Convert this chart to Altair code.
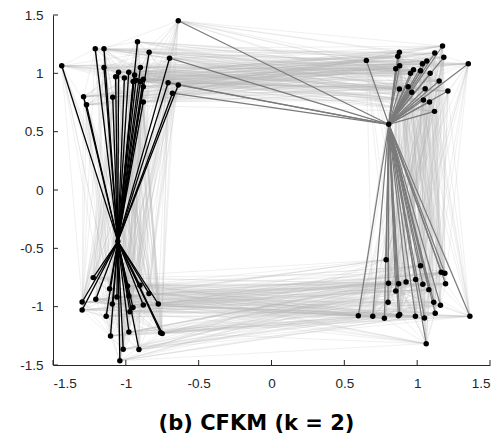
import altair as alt
import pandas as pd

# ---- data ----
# top-left cluster
tl_x = [-0.64, -1.44, -1.21, -1.15, -0.92, -0.84, -0.70, -1.15, -1.05, -1.07, -1.01, -0.98, -0.94,
        -0.90, -0.93, -0.88, -0.90, -0.88, -1.09, -1.29, -1.27, -0.88, -0.71, -0.64, -0.68, -0.95]
tl_y = [1.45, 1.065, 1.21, 1.21, 1.27, 1.18, 1.13, 1.05, 1.01, 0.97, 0.96, 1.01, 0.985,
        1.05, 0.94, 0.95, 0.93, 0.885, 0.795, 0.80, 0.73, 0.755, 0.92, 0.90, 0.83, 0.93]
# which centre(s) each top-left point is linked to: L = left, R = right, B = both
tl_link = ["R", "L", "L", "L", "L", "L", "B", "L", "L", "L", "L", "L", "L",
           "L", "L", "L", "L", "L", "L", "L", "L", "L", "B", "B", "B", "L"]

# top-right cluster
tr_x = [1.174, 1.351, 0.651, 0.878, 0.867, 1.121, 1.183, 1.066, 1.036, 0.880, 0.853, 0.975,
        0.954, 1.023, 1.089, 1.151, 0.878, 0.938, 0.963, 1.055, 1.211, 1.043, 1.085, 1.119]
tr_y = [1.234, 1.082, 1.111, 1.18, 1.146, 1.174, 1.137, 1.105, 1.082, 1.065, 1.04, 1.031,
        1.0, 1.022, 1.0, 0.934, 0.865, 0.885, 0.837, 0.868, 0.848, 0.771, 0.754, 0.674]

# bottom-left cluster
bl_x = [-1.224, -1.30, -1.30, -1.206, -1.111, -1.093, -1.061, -1.135, -1.105, -1.041, -1.018, -0.979,
        -0.972, -0.951, -0.979, -0.988, -0.903, -0.880, -0.841, -0.777, -0.910, -0.761, -0.750]
bl_y = [-0.751, -0.96, -1.028, -0.937, -0.846, -0.977, -0.917, -1.083, -1.251, -1.463, -1.365, -1.217,
        -1.043, -1.008, -0.908, -0.823, -0.817, -0.985, -0.888, -0.977, -1.368, -1.223, -1.231]

# bottom-right cluster
br_x = [0.787, 1.023, 1.165, 1.190, 1.195, 0.803, 0.873, 0.924, 0.990, 1.039, 0.853, 1.080,
        0.800, 1.114, 1.160, 1.124, 0.596, 0.695, 0.775, 0.871, 0.880, 0.988, 1.050, 1.362, 1.062]
br_y = [-0.597, -0.649, -0.705, -0.714, -0.803, -0.80, -0.803, -0.788, -0.768, -0.808, -0.865, -0.854,
        -0.962, -0.962, -0.988, -1.057, -1.077, -1.083, -1.10, -1.077, -1.068, -1.083, -1.097, -1.083, -1.317]

# cluster centres
centre_x = [-1.055, 0.805]
centre_y = [-0.44, 0.563]

tick_values = [-1.5, -1, -0.5, 0, 0.5, 1, 1.5]

# ---- build tables ----
clusters = {
    "TL": list(zip(tl_x, tl_y)),
    "TR": list(zip(tr_x, tr_y)),
    "BL": list(zip(bl_x, bl_y)),
    "BR": list(zip(br_x, br_y)),
}
pairs = [("TL", "TR"), ("BL", "BR"), ("TL", "BL"), ("TR", "BR")]

# light graph edges: a regular subset of the pairs between neighbouring clusters
edges = []
for a, b in pairs:
    for i, (x1, y1) in enumerate(clusters[a]):
        for j, (x2, y2) in enumerate(clusters[b]):
            if (i + 2 * j) % 3 == 0:
                edges.append({"x": x1, "y": y1, "x2": x2, "y2": y2})
for k, pts in clusters.items():
    for i in range(len(pts)):
        for j in range(i + 1, len(pts)):
            if (i + j) % 3 == 0:
                edges.append({"x": pts[i][0], "y": pts[i][1], "x2": pts[j][0], "y2": pts[j][1]})
edges_df = pd.DataFrame(edges)

black_links, gray_links = [], []
for (x, y), lk in zip(clusters["TL"], tl_link):
    if lk in ("L", "B"):
        black_links.append({"x": centre_x[0], "y": centre_y[0], "x2": x, "y2": y})
    if lk in ("R", "B"):
        gray_links.append({"x": centre_x[1], "y": centre_y[1], "x2": x, "y2": y})
for (x, y) in clusters["BL"]:
    black_links.append({"x": centre_x[0], "y": centre_y[0], "x2": x, "y2": y})
for (x, y) in clusters["TR"] + clusters["BR"]:
    gray_links.append({"x": centre_x[1], "y": centre_y[1], "x2": x, "y2": y})
black_df = pd.DataFrame(black_links)
gray_df = pd.DataFrame(gray_links)

all_pts = clusters["TL"] + clusters["TR"] + clusters["BL"] + clusters["BR"] + list(zip(centre_x, centre_y))
pts_df = pd.DataFrame(all_pts, columns=["x", "y"])

W, H = 437, 350
AXC = "#262626"
lbl = "datum.value == 0 ? '0' : '' + datum.value"

xscale = alt.Scale(domain=[-1.5, 1.5], nice=False, zero=False)
yscale = alt.Scale(domain=[-1.5, 1.5], nice=False, zero=False)
xaxis = alt.Axis(values=tick_values, labelExpr=lbl, title=None, grid=False, ticks=False,
                 domainColor=AXC, domainWidth=1, labelColor=AXC, labelFont="Liberation Sans",
                 labelFontSize=13.5, labelPadding=11)
yaxis = alt.Axis(values=tick_values, labelExpr=lbl, title=None, grid=False, ticks=False,
                 domainColor=AXC, domainWidth=1, labelColor=AXC, labelFont="Liberation Sans",
                 labelFontSize=13.5, labelPadding=10)

X = lambda: alt.X("x:Q", scale=xscale, axis=xaxis)
Y = lambda: alt.Y("y:Q", scale=yscale, axis=yaxis)

edge_layer = alt.Chart(edges_df).mark_rule(color="#b4b4b4", opacity=0.25, strokeWidth=0.8).encode(
    x=X(), y=Y(), x2="x2:Q", y2="y2:Q")
gray_layer = alt.Chart(gray_df).mark_rule(color="#7a7a7a", strokeWidth=1.2).encode(
    x=X(), y=Y(), x2="x2:Q", y2="y2:Q")
black_layer = alt.Chart(black_df).mark_rule(color="#000000", strokeWidth=1.3).encode(
    x=X(), y=Y(), x2="x2:Q", y2="y2:Q")
pt_layer = alt.Chart(pts_df).mark_circle(color="#000000", opacity=1, size=30).encode(x=X(), y=Y())

xt_df = pd.DataFrame({"x": tick_values})
yt_df = pd.DataFrame({"y": tick_values})
xtick_layer = alt.Chart(xt_df).mark_rule(color=AXC, strokeWidth=1).encode(
    x=X(), y=alt.value(H), y2=alt.value(H - 5))
ytick_layer = alt.Chart(yt_df).mark_rule(color=AXC, strokeWidth=1).encode(
    y=Y(), x=alt.value(0), x2=alt.value(5))

chart = alt.layer(edge_layer, gray_layer, black_layer, pt_layer, xtick_layer, ytick_layer).properties(
    width=W, height=H,
    autosize=alt.AutoSizeParams(type="none"),
    padding={"left": 53, "top": 15, "right": 14, "bottom": 80},
    title=alt.TitleParams(text="(b) CFKM (k = 2)", orient="bottom", anchor="middle",
                          font="DejaVu Sans", fontSize=21, fontWeight="bold", color="#000000",
                          offset=23, dx=-15),
).configure_view(stroke=None)

chart.save("out.html", embed_options={"renderer": "svg", "actions": False})
